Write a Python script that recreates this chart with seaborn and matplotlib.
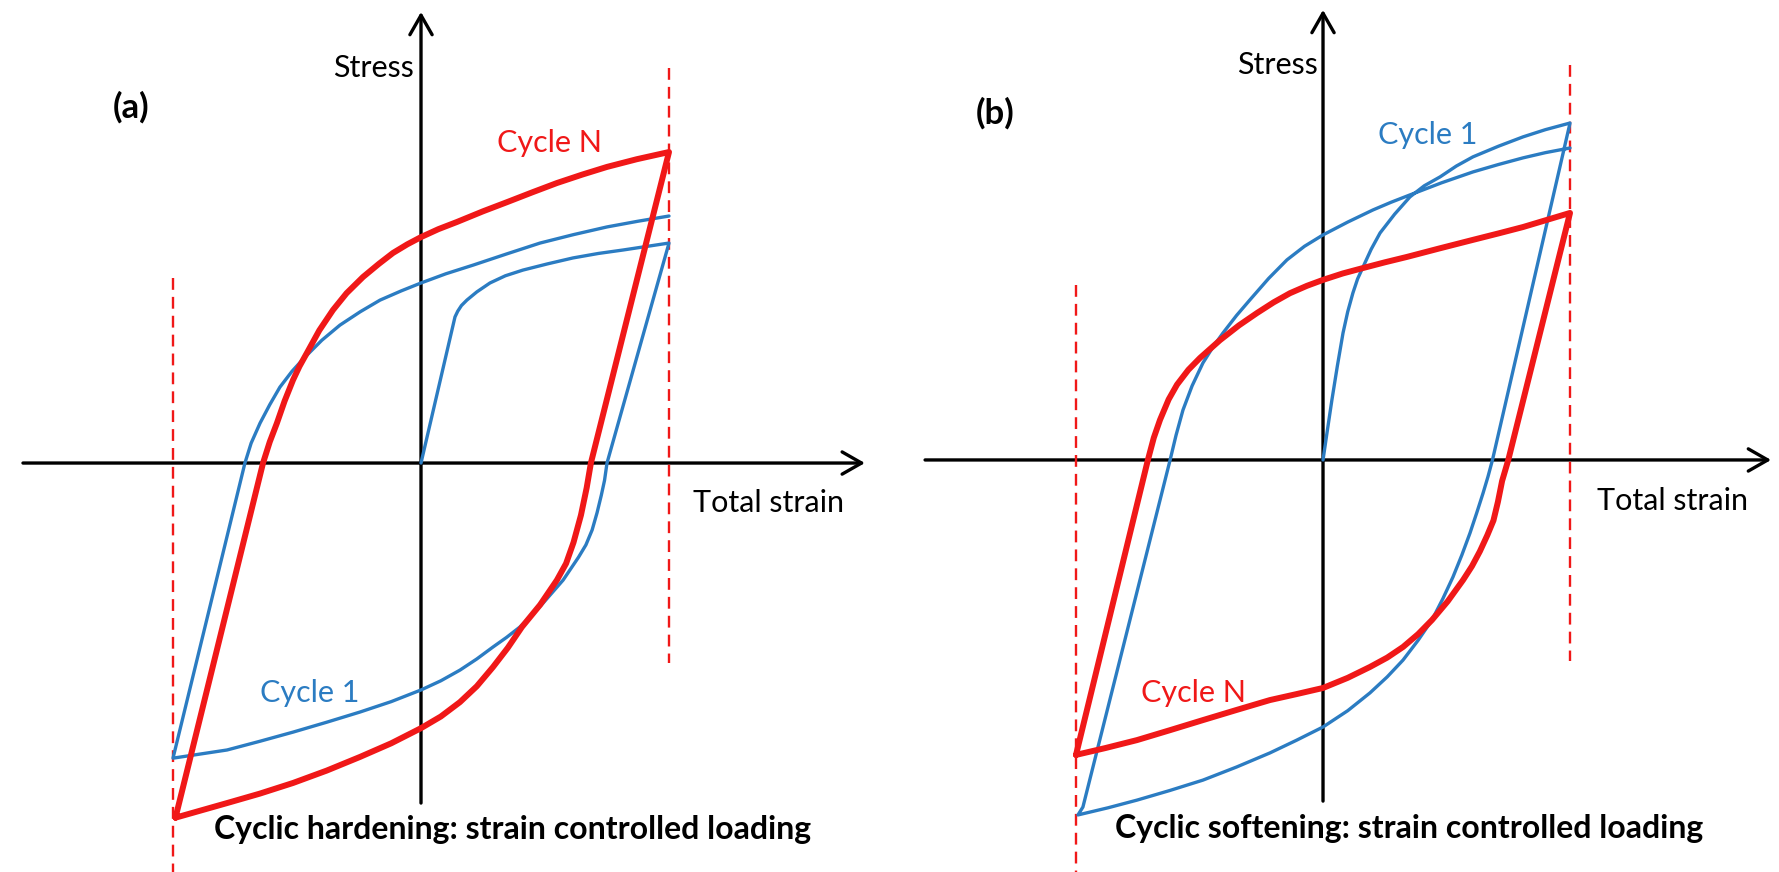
import numpy as np
import pandas as pd
import matplotlib
matplotlib.use("Agg")
import matplotlib.pyplot as plt
import seaborn as sns

# ---------------- data (strain, stress in normalised units; strain limits = +/-1) -------------
# Panel (a): cyclic hardening -- Cycle N (red) loop: loading branch then unloading branch
A_RED_X = [-0.99, -0.637, -0.61, -0.581, -0.55, -0.516, -0.49, -0.46, -0.41, -0.355, -0.3, -0.234, -0.17,
           -0.113, -0.055, 0.0, 0.07, 0.145, 0.25, 0.347, 0.45, 0.548, 0.65, 0.75, 0.87, 1.0,
           0.685, 0.668, 0.645, 0.615, 0.585, 0.548, 0.48, 0.407, 0.35, 0.29, 0.225, 0.157, 0.08, 0.0,
           -0.12, -0.246, -0.38, -0.516, -0.65, -0.782, -0.99]
A_RED_Y = [-1.43, 0.0, 0.085, 0.161, 0.25, 0.335, 0.39, 0.444, 0.535, 0.617, 0.685, 0.75, 0.803,
           0.847, 0.882, 0.911, 0.943, 0.972, 1.015, 1.052, 1.092, 1.129, 1.163, 1.194, 1.225, 1.254,
           0.0, -0.1, -0.21, -0.32, -0.405, -0.472, -0.572, -0.661, -0.745, -0.823, -0.9, -0.964, -1.022, -1.069,
           -1.13, -1.185, -1.24, -1.29, -1.333, -1.371, -1.43]
# Cycle 1 (blue): initial loading, unloading, reloading
A_BLUE_X = [0.0, 0.137, 0.148, 0.163, 0.185, 0.225, 0.278, 0.34, 0.411, 0.51, 0.613, 0.715, 0.815, 1.0,
            0.75, 0.74, 0.727, 0.71, 0.69, 0.665, 0.635, 0.573, 0.492, 0.445, 0.399, 0.345, 0.29, 0.225,
            0.157, 0.08, 0.0, -0.12, -0.246, -0.38, -0.516, -0.65, -0.782, -1.0,
            -0.71, -0.685, -0.649, -0.61, -0.569, -0.52, -0.468, -0.4, -0.327, -0.245, -0.165, -0.08, 0.0,
            0.1, 0.21, 0.345, 0.48, 0.615, 0.75, 0.875, 1.0]
A_BLUE_Y = [0.0, 0.589, 0.612, 0.635, 0.657, 0.69, 0.726, 0.755, 0.778, 0.803, 0.827, 0.845, 0.859, 0.887,
            0.0, -0.07, -0.13, -0.2, -0.27, -0.33, -0.38, -0.472, -0.565, -0.615, -0.661, -0.703, -0.742, -0.79,
            -0.835, -0.878, -0.915, -0.962, -1.004, -1.045, -1.085, -1.122, -1.157, -1.19,
            0.0, 0.08, 0.161, 0.235, 0.306, 0.37, 0.427, 0.495, 0.556, 0.61, 0.657, 0.694, 0.726,
            0.763, 0.798, 0.843, 0.887, 0.921, 0.952, 0.975, 0.996]

# Panel (b): cyclic softening
B_RED_X = [-1.0, -0.709, -0.685, -0.66, -0.625, -0.591, -0.545, -0.498, -0.417, -0.34, -0.267, -0.2, -0.134,
           -0.065, 0.0, 0.08, 0.162, 0.25, 0.34, 0.47, 0.607, 0.71, 0.81, 0.9, 1.0,
           0.75, 0.725, 0.708, 0.69, 0.665, 0.635, 0.603, 0.567, 0.505, 0.441, 0.385, 0.324, 0.26, 0.19, 0.1,
           0.0, -0.108, -0.215, -0.35, -0.486, -0.62, -0.753, -0.88, -1.0]
B_RED_Y = [-1.194, 0.0, 0.09, 0.162, 0.245, 0.305, 0.365, 0.413, 0.485, 0.545, 0.595, 0.638, 0.675,
           0.705, 0.729, 0.755, 0.777, 0.8, 0.822, 0.856, 0.891, 0.917, 0.943, 0.97, 1.0,
           0.0, -0.085, -0.17, -0.245, -0.305, -0.37, -0.43, -0.486, -0.572, -0.648, -0.705, -0.757, -0.8, -0.838, -0.882,
           -0.923, -0.948, -0.972, -1.012, -1.053, -1.094, -1.134, -1.166, -1.194]
B_BLUE_X = [0.0, 0.016, 0.036, 0.058, 0.081, 0.1, 0.121, 0.14, 0.162, 0.195, 0.231, 0.29, 0.352, 0.41,
            0.474, 0.54, 0.607, 0.71, 0.81, 0.9, 1.0,
            0.686, 0.668, 0.648, 0.622, 0.595, 0.562, 0.526, 0.485, 0.441, 0.385, 0.324, 0.26, 0.19, 0.1,
            0.0, -0.108, -0.215, -0.35, -0.486, -0.62, -0.753, -0.87, -0.992,
            -0.972, -0.619, -0.595, -0.567, -0.53, -0.486, -0.445, -0.405, -0.35, -0.296, -0.22, -0.146,
            -0.075, 0.0, 0.1, 0.202, 0.275, 0.352, 0.48, 0.607, 0.71, 0.81, 0.9, 1.0]
B_BLUE_Y = [0.0, 0.109, 0.243, 0.38, 0.514, 0.6, 0.676, 0.733, 0.781, 0.853, 0.919, 0.995, 1.065, 1.11,
            1.146, 1.19, 1.227, 1.27, 1.308, 1.337, 1.364,
            0.0, -0.067, -0.134, -0.215, -0.296, -0.385, -0.474, -0.562, -0.648, -0.73, -0.81, -0.878, -0.943, -1.015,
            -1.081, -1.135, -1.186, -1.243, -1.296, -1.338, -1.377, -1.408, -1.437,
            -1.405, 0.0, 0.1, 0.202, 0.3, 0.393, 0.458, 0.514, 0.585, 0.648, 0.735, 0.81,
            0.865, 0.911, 0.963, 1.012, 1.043, 1.073, 1.122, 1.166, 1.196, 1.223, 1.244, 1.263]

STRAIN_LIMITS = [-1.0, 1.0]
PANEL_LABELS = ["(a)", "(b)"]
CAPTIONS = ["Cyclic hardening: strain controlled loading",
            "Cyclic softening: strain controlled loading"]
AXIS_X_LABEL = "Total strain"
AXIS_Y_LABEL = "Stress"
RED_LABEL = "Cycle N"
BLUE_LABEL = "Cycle 1"

# ---------------- style ----------------
RED = "#f01818"
BLUE = "#2b7cc2"
BLACK = "#000000"

sns.set_theme(style="white")
plt.rcParams["font.family"] = ["Lato", "DejaVu Sans"]

W, H = 1779, 872
fig = plt.figure(figsize=(W / 100, H / 100), dpi=100)
fig.patch.set_facecolor("white")

panels = [
    dict(rect=[0, 0, 890 / W, 1], xlim=(-1.6976, 1.8911), ylim=(-1.649, 1.867),
         hx=(-1.605, 1.79), vy=(-1.371, 1.819),
         dl=(0.746, -1.70), dr=(1.593, -0.806),
         red=(A_RED_X, A_RED_Y), blue=(A_BLUE_X, A_BLUE_Y),
         label_xy=(-1.169, 1.435), stress_xy=(-0.028, 1.593), strain_xy=(1.097, -0.161),
         red_xy=(0.52, 1.29), blue_xy=(-0.448, -0.927), cap_xy=(0.371, -1.476)),
    dict(rect=[890 / W, 0, 889 / W, 1], xlim=(-1.753, 1.846), ylim=(-1.668, 1.862),
         hx=(-1.611, 1.814), vy=(-1.381, 1.822),
         dl=(0.709, -1.70), dr=(1.599, -0.814),
         red=(B_RED_X, B_RED_Y), blue=(B_BLUE_X, B_BLUE_Y),
         label_xy=(-1.328, 1.405), stress_xy=(-0.02, 1.60), strain_xy=(1.109, -0.166),
         red_xy=(-0.526, -0.943), blue_xy=(0.425, 1.316), cap_xy=(0.348, -1.49)),
]

for i, p in enumerate(panels):
    ax = fig.add_axes(p["rect"])
    ax.set_xlim(*p["xlim"])
    ax.set_ylim(*p["ylim"])
    ax.axis("off")

    arrow_kw = dict(arrowstyle="->,head_length=0.7,head_width=0.4", lw=2.4, color=BLACK,
                    mutation_scale=20, shrinkA=0, shrinkB=0)
    ax.annotate("", xy=(p["hx"][1], 0), xytext=(p["hx"][0], 0), arrowprops=arrow_kw, zorder=1)
    ax.annotate("", xy=(0, p["vy"][1]), xytext=(0, p["vy"][0]), arrowprops=arrow_kw, zorder=1)

    ax.plot([STRAIN_LIMITS[0]] * 2, list(p["dl"]), color=RED, lw=1.7, ls=(0, (5, 3)), zorder=2)
    ax.plot([STRAIN_LIMITS[1]] * 2, list(p["dr"]), color=RED, lw=1.7, ls=(0, (5, 3)), zorder=2)

    bx, by = p["blue"]
    rx, ry = p["red"]
    sns.lineplot(x=bx, y=by, sort=False, estimator=None, ax=ax, color=BLUE, linewidth=2.4, zorder=3)
    sns.lineplot(x=rx, y=ry, sort=False, estimator=None, ax=ax, color=RED, linewidth=4.3, zorder=4)
    for ln in ax.lines:
        ln.set_solid_joinstyle("round")

    ax.text(*p["label_xy"], PANEL_LABELS[i], fontsize=25, fontweight="bold", ha="center", va="center", color=BLACK)
    ax.text(*p["stress_xy"], AXIS_Y_LABEL, fontsize=22, ha="right", va="center", color=BLACK)
    ax.text(*p["strain_xy"], AXIS_X_LABEL, fontsize=22, ha="left", va="center", color=BLACK)
    ax.text(*p["red_xy"], RED_LABEL, fontsize=22, ha="center", va="center", color=RED)
    ax.text(*p["blue_xy"], BLUE_LABEL, fontsize=22, ha="center", va="center", color=BLUE)
    ax.text(*p["cap_xy"], CAPTIONS[i], fontsize=23, fontweight="bold", ha="center", va="center", color=BLACK)

fig.savefig("out.png", dpi=100, facecolor="white")
